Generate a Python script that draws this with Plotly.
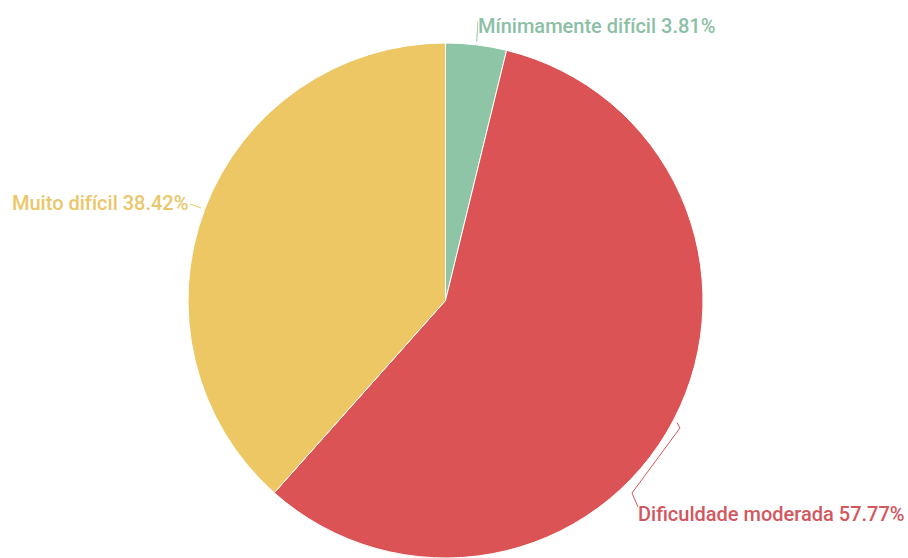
import math
import plotly.graph_objects as go

# Slice data (clockwise from 12 o'clock)
categories = ["Mínimamente difícil", "Dificuldade moderada", "Muito difícil"]
percentages = [3.81, 57.77, 38.42]
colors = ["#8DC5A6", "#DB5355", "#ECC764"]
text_colors = ["#8CC0A5", "#D2575E", "#E9C76A"]

W, H = 908, 558
# Pie placement in pixels
CX, CY, R = 445.5, 301.0, 257.5

# Label layout: text anchor, horizontal alignment, elbow points of the leader
label_layout = [
    dict(x=476, y=26, xanchor="left", elbows=[(478, 21)]),
    dict(x=636, y=514, xanchor="left", elbows=[(680, 428), (632, 493), (638, 507)]),
    dict(x=190, y=203, xanchor="right", elbows=[(190, 204)]),
]

fig = go.Figure()
fig.add_trace(go.Pie(
    labels=categories,
    values=percentages,
    sort=False,
    direction="clockwise",
    rotation=0,
    marker=dict(colors=colors, line=dict(color="white", width=1)),
    textinfo="none",
    hoverinfo="label+percent",
    showlegend=False,
    domain=dict(x=[(CX - R) / W, (CX + R) / W], y=[0, (2 * R) / H]),
))

# Overlay axes in pixel units for labels and leader lines
fig.add_trace(go.Scatter(x=[0, W], y=[0, H], mode="markers",
                         marker=dict(opacity=0), hoverinfo="skip", showlegend=False))

total = sum(percentages)
start = 0.0
shapes = []
annotations = []
for name, pct, col, tcol, lay in zip(categories, percentages, colors, text_colors, label_layout):
    frac = pct / total
    mid = (start + frac / 2) * 2 * math.pi
    start += frac
    ex = CX + (R + 4) * math.sin(mid)
    ey = CY - (R + 4) * math.cos(mid)
    pts = [(ex, ey)] + lay["elbows"]
    path = "M " + " L ".join(f"{px:.1f},{py:.1f}" for px, py in pts)
    for lw, lc in ((3, "white"), (1, col)):
        shapes.append(dict(type="path", path=path, xref="x", yref="y",
                           line=dict(color=lc, width=lw), layer="above"))
    annotations.append(dict(
        x=lay["x"], y=lay["y"], xref="x", yref="y",
        text=f"{name} {pct:.2f}%", showarrow=False,
        xanchor=lay["xanchor"], yanchor="middle",
        font=dict(family="Roboto", size=20, color=tcol, weight=500,
                  shadow="1px 1px 1px white, -1px -1px 1px white, 1px -1px 1px white, -1px 1px 1px white"),
    ))

fig.update_layout(
    width=W, height=H,
    margin=dict(l=0, r=0, t=0, b=0),
    paper_bgcolor="white", plot_bgcolor="rgba(0,0,0,0)",
    xaxis=dict(range=[0, W], visible=False, fixedrange=True),
    yaxis=dict(range=[H, 0], visible=False, fixedrange=True),
    shapes=shapes,
    annotations=annotations,
)

fig.write_html("out.html")
